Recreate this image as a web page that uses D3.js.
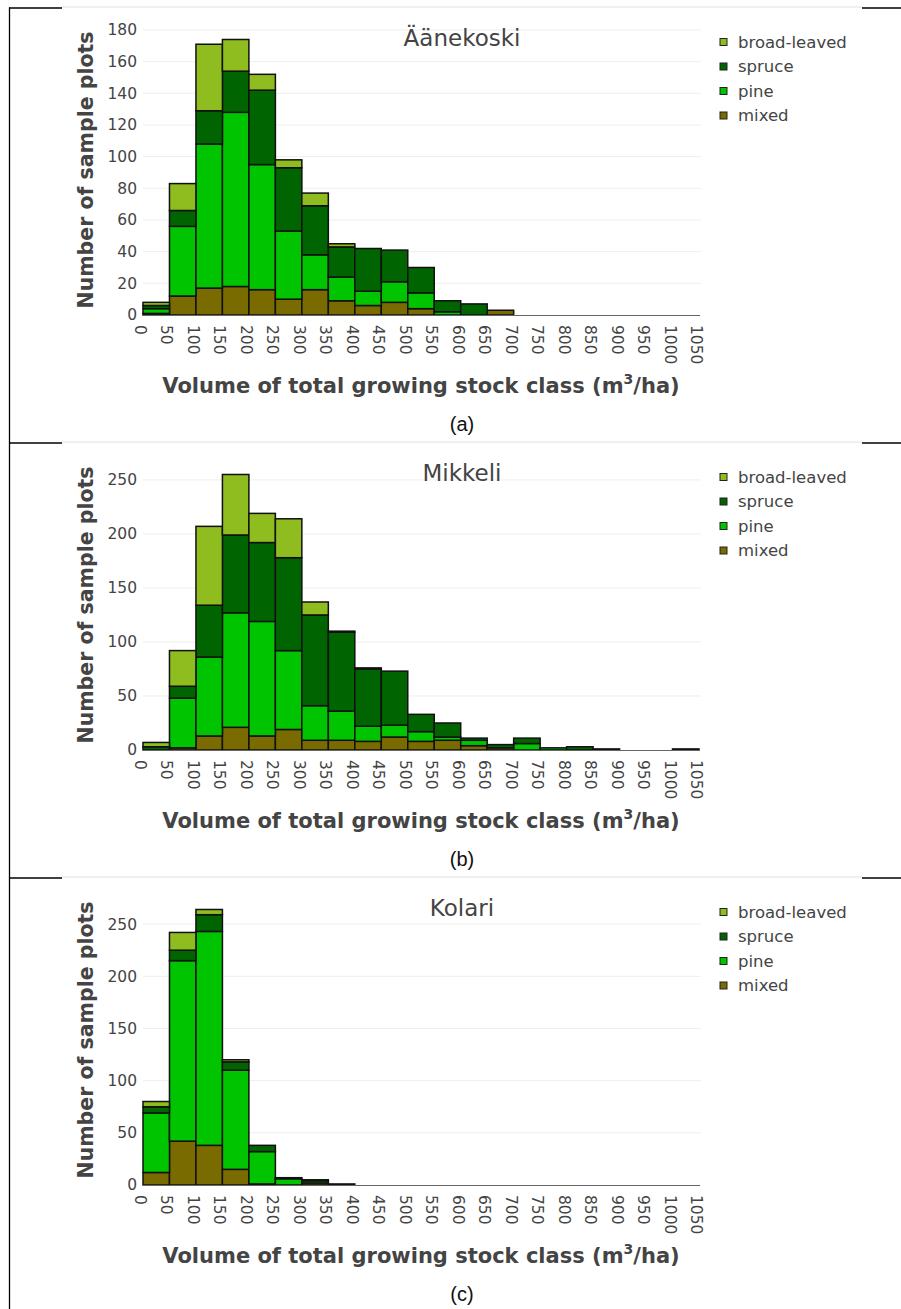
<!DOCTYPE html>
<html>
<head>
<meta charset="utf-8">
<script src="https://cdn.jsdelivr.net/npm/d3@7"></script>
<style>
  html, body { margin: 0; padding: 0; background: #fff; }
  svg { display: block; }
</style>
</head>
<body>
<svg id="fig" width="901" height="1309"></svg>
<script>
// Class edges of total growing stock volume (m3/ha), used as x tick labels
const tickLabels = [0,50,100,150,200,250,300,350,400,450,500,550,600,650,700,750,800,850,900,950,1000,1050];

// Series in stacking order (bottom to top) and legend order (top to bottom)
const speciesKeys = ["mixed", "pine", "spruce", "broad-leaved"];
const legendOrder = ["broad-leaved", "spruce", "pine", "mixed"];
const speciesColors = ["#7a6b00", "#00c400", "#006400", "#8fbc1f"];

// Äänekoski: number of sample plots per 50 m3/ha class
const aaneMixed  = [1,12,17,18,16,10,16,9,6,8,4,0,0,3];
const aanePine   = [3,44,91,110,79,43,22,15,9,13,10,2,0,0];
const aaneSpruce = [2,10,21,26,47,40,31,19,27,20,16,7,7,0];
const aaneBroad  = [2,17,42,20,10,5,8,2,0,0,0,0,0,0];

// Mikkeli
const mikMixed  = [0,2,13,21,13,19,9,9,8,12,8,9,4,2,0,0,0,0,0,0,0];
const mikPine   = [0,46,73,106,106,73,32,27,14,11,9,3,5,0,6,2,0,0,0,0,0];
const mikSpruce = [3,11,48,72,73,86,84,73,53,50,16,13,2,3,5,0,3,1,0,0,1];
const mikBroad  = [4,33,73,56,27,36,12,1,1,0,0,0,0,0,0,0,0,0,0,0,0];

// Kolari
const kolMixed  = [12,42,38,15,1,0,2,1];
const kolPine   = [57,173,205,95,31,6,2,0];
const kolSpruce = [6,10,16,8,6,1,1,0];
const kolBroad  = [5,17,5,2,0,0,0,0];

// Y tick values per panel
const aaneTicks = [0,20,40,60,80,100,120,140,160,180];
const mikTicks  = [0,50,100,150,200,250];
const kolTicks  = [0,50,100,150,200,250];

const panels = [
  { title: "Äänekoski", caption: "(a)", top: 8,   ticks: aaneTicks, series: [aaneMixed, aanePine, aaneSpruce, aaneBroad] },
  { title: "Mikkeli",   caption: "(b)", top: 443, ticks: mikTicks,  series: [mikMixed, mikPine, mikSpruce, mikBroad] },
  { title: "Kolari",    caption: "(c)", top: 878, ticks: kolTicks,  series: [kolMixed, kolPine, kolSpruce, kolBroad] }
];

const svg = d3.select("#fig");
svg.append("rect").attr("width", 901).attr("height", 1309).attr("fill", "#fff");

const FONT = "'DejaVu Sans', Verdana, sans-serif";
const TXT = "#444";
const plotL = 143, plotR = 699, plotT = 17, plotB = 307;

const x = d3.scaleLinear().domain([0, 1050]).range([plotL, plotR]);
const color = d3.scaleOrdinal().domain(speciesKeys).range(speciesColors);

// Frame of the figure table
svg.append("line").attr("x1", 9.5).attr("x2", 9.5).attr("y1", 7.5).attr("y2", 1309)
   .attr("stroke", "#000").attr("stroke-width", 1.3);

panels.forEach(p => {
  const g = svg.append("g").attr("transform", `translate(0,${p.top})`);

  // cell borders
  g.append("line").attr("x1", 62).attr("x2", 862).attr("y1", -1).attr("y2", -1)
   .attr("stroke", "#e2e2e2").attr("stroke-width", 1);
  g.append("line").attr("x1", 9).attr("x2", 62).attr("y1", 0).attr("y2", 0)
   .attr("stroke", "#000").attr("stroke-width", 1.3);
  g.append("line").attr("x1", 862).attr("x2", 901).attr("y1", 0).attr("y2", 0)
   .attr("stroke", "#000").attr("stroke-width", 1.3);

  const n = p.series[0].length;
  const rows = d3.range(n).map(i => {
    const r = { x0: tickLabels[i], x1: tickLabels[i + 1] };
    speciesKeys.forEach((k, j) => r[k] = p.series[j][i]);
    return r;
  });
  const maxTotal = d3.max(rows, r => d3.sum(speciesKeys, k => r[k]));
  const y = d3.scaleLinear().domain([0, maxTotal * 1.0526]).range([plotB, plotT]);

  // gridlines
  g.append("g").selectAll("line").data(p.ticks.filter(t => t > 0)).join("line")
    .attr("x1", plotL).attr("x2", plotR + 2)
    .attr("y1", d => y(d)).attr("y2", d => y(d))
    .attr("stroke", "#eeeeee").attr("stroke-width", 1);

  // y axis labels
  const yAxis = d3.axisLeft(y).tickValues(p.ticks).tickSize(0).tickPadding(5).tickFormat(d3.format("d"));
  const ya = g.append("g").attr("transform", `translate(${plotL - 1},0)`).call(yAxis);
  ya.select(".domain").remove();
  ya.selectAll("text").attr("font-family", FONT).attr("font-size", 15.5).attr("fill", TXT);

  // stacked bars
  const stacked = d3.stack().keys(speciesKeys)(rows);
  g.append("g").selectAll("g").data(stacked).join("g")
    .attr("fill", d => color(d.key))
    .selectAll("rect").data(d => d.filter(s => s[1] - s[0] > 0)).join("rect")
    .attr("x", d => x(d.data.x0))
    .attr("width", d => x(d.data.x1) - x(d.data.x0))
    .attr("y", d => y(d[1]))
    .attr("height", d => y(d[0]) - y(d[1]))
    .attr("stroke", "#111").attr("stroke-width", 1.5);

  // x axis line
  g.append("line").attr("x1", plotL).attr("x2", plotR + 1)
   .attr("y1", plotB + 0.5).attr("y2", plotB + 0.5)
   .attr("stroke", "#666").attr("stroke-width", 1);

  // x tick labels, rotated to read downward
  const xAxis = d3.axisBottom(x).tickValues(tickLabels).tickSize(0).tickPadding(0).tickFormat(d3.format("d"));
  const xa = g.append("g").attr("transform", `translate(0,${plotB})`).call(xAxis);
  xa.select(".domain").remove();
  xa.selectAll("text")
    .attr("font-family", FONT).attr("font-size", 15.5).attr("fill", TXT)
    .attr("text-anchor", "start")
    .attr("dy", null).attr("y", null)
    .attr("transform", "translate(-3.5,10) rotate(90)")
    .attr("dominant-baseline", "central");

  // chart title
  g.append("text").attr("x", 462).attr("y", 38)
   .attr("text-anchor", "middle").attr("font-family", FONT).attr("font-size", 23)
   .attr("fill", TXT).text(p.title);

  // axis titles
  const xt = g.append("text").attr("x", (plotL + plotR) / 2).attr("y", 385)
   .attr("text-anchor", "middle").attr("font-family", FONT).attr("font-size", 21)
   .attr("font-weight", "bold").attr("fill", TXT);
  xt.append("tspan").text("Volume of total growing stock class (m");
  xt.append("tspan").attr("font-size", 14).attr("dy", -9).text("3");
  xt.append("tspan").attr("dy", 9).text("/ha)");

  g.append("text")
   .attr("transform", `translate(93,${(plotT + plotB) / 2}) rotate(-90)`)
   .attr("text-anchor", "middle").attr("font-family", FONT).attr("font-size", 20.5)
   .attr("font-weight", "bold").attr("fill", TXT).text("Number of sample plots");

  // legend
  const lg = g.append("g").selectAll("g").data(legendOrder).join("g")
    .attr("transform", (d, i) => `translate(720,${34 + i * 24.5})`);
  lg.append("rect").attr("x", 0).attr("y", -3.5).attr("width", 7).attr("height", 7)
    .attr("fill", d => color(d)).attr("stroke", "#222").attr("stroke-width", 1);
  lg.append("text").attr("x", 18).attr("y", 0).attr("dominant-baseline", "central")
    .attr("font-family", FONT).attr("font-size", 16.5).attr("fill", TXT).text(d => d);

  // panel caption
  g.append("text").attr("x", 462).attr("y", 416).attr("text-anchor", "middle")
   .attr("dominant-baseline", "central")
   .attr("font-family", "'Liberation Sans', Arial, sans-serif").attr("font-size", 20)
   .attr("fill", "#111").text(p.caption);
});
</script>
</body>
</html>
